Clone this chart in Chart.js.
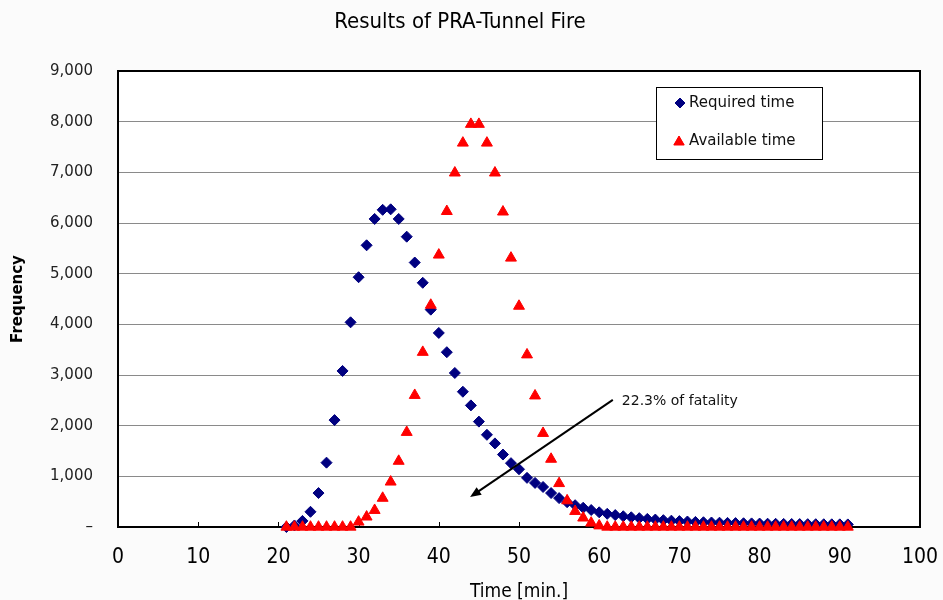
<!DOCTYPE html>
<html><head><meta charset="utf-8">
<script src="https://cdn.jsdelivr.net/npm/chart.js@4"></script>
<style>html,body{margin:0;padding:0;background:#fbfbfb;}#wrap{width:943px;height:600px;}</style>
</head><body><div id="wrap"><canvas id="c" width="943" height="600"></canvas></div>
<script>
const times=[21,22,23,24,25,26,27,28,29,30,31,32,33,34,35,36,37,38,39,40,41,42,43,44,45,46,47,48,49,50,51,52,53,54,55,56,57,58,59,60,61,62,63,64,65,66,67,68,69,70,71,72,73,74,75,76,77,78,79,80,81,82,83,84,85,86,87,88,89,90,91];
const requiredTime=[0,30,120,300,670,1270,2110,3080,4040,4930,5560,6080,6260,6270,6080,5730,5220,4820,4290,3830,3450,3040,2670,2400,2080,1820,1650,1430,1260,1140,970,870,790,670,570,490,430,380,335,290,260,235,212,192,175,160,147,135,125,116,108,100,94,89,85,81,77,74,71,68,65,63,61,59,57,56,55,54,53,52,51];
const availableTime=[0,0,0,0,0,0,0,0,0,100,200,330,570,890,1300,1870,2600,3450,4380,5370,6230,6990,7580,7950,7950,7580,6990,6220,5310,4360,3400,2590,1850,1340,860,520,310,180,80,25,0,0,0,0,0,0,0,0,0,0,0,0,0,0,0,0,0,0,0,0,0,0,0,0,0,0,0,0,0,0,0];
const xTickValues=[0,10,20,30,40,50,60,70,80,90,100];
const yTickValues=[0,1000,2000,3000,4000,5000,6000,7000,8000,9000];
const seriesNames=['Required time','Available time'];
const annotationText='22.3% of fatality';
const arrowFrom={x:61.7,y:2510};
const arrowTo={x:43.9,y:590};

const NARROW="'DejaVu Sans Condensed','Liberation Sans Narrow','Arial Narrow',sans-serif";
const SANS="'DejaVu Sans',Verdana,sans-serif";
const NAVY='#000080', RED='#ff0000';

function pts(vals){return times.map((t,i)=>({x:t,y:vals[i]}));}

function marker(ctx,style,x,y,r,color){
  ctx.save();ctx.fillStyle=color;ctx.strokeStyle=color;ctx.lineWidth=1;
  if(Chart.helpers&&Chart.helpers.drawPoint){
    Chart.helpers.drawPoint(ctx,{pointStyle:style,radius:r,rotation:0,borderWidth:1},x,y);
    ctx.fill();
  }
  ctx.restore();
}

const decor={
  id:'decor',
  beforeDraw(chart){
    const {ctx,chartArea:a}=chart;
    ctx.save();ctx.fillStyle='#ffffff';ctx.fillRect(a.left,a.top,a.right-a.left,a.bottom-a.top);ctx.restore();
  },
  beforeDatasetsDraw(chart){
    const {ctx,chartArea:a,scales}=chart;
    ctx.save();
    ctx.strokeStyle='#000';ctx.lineWidth=1;
    xTickValues.forEach(v=>{const px=Math.round(scales.x.getPixelForValue(v))+0.5;ctx.beginPath();ctx.moveTo(px,a.bottom);ctx.lineTo(px,a.bottom-5);ctx.stroke();});
    ctx.lineWidth=2;ctx.strokeRect(a.left,a.top,a.right-a.left,a.bottom-a.top);
    ctx.restore();
  },
  afterDatasetsDraw(chart){
    const {ctx,chartArea:a,scales}=chart;
    const sx=scales.x, sy=scales.y;
    const x1=sx.getPixelForValue(arrowFrom.x), y1=sy.getPixelForValue(arrowFrom.y);
    const x2=sx.getPixelForValue(arrowTo.x), y2=sy.getPixelForValue(arrowTo.y);
    ctx.save();ctx.strokeStyle='#000';ctx.fillStyle='#000';ctx.lineWidth=2;
    const ang=Math.atan2(y2-y1,x2-x1);
    ctx.beginPath();ctx.moveTo(x1,y1);ctx.lineTo(x2-7*Math.cos(ang),y2-7*Math.sin(ang));ctx.stroke();
    ctx.beginPath();ctx.moveTo(x2,y2);
    ctx.lineTo(x2-11*Math.cos(ang)+4.5*Math.sin(ang),y2-11*Math.sin(ang)-4.5*Math.cos(ang));
    ctx.lineTo(x2-11*Math.cos(ang)-4.5*Math.sin(ang),y2-11*Math.sin(ang)+4.5*Math.cos(ang));
    ctx.closePath();ctx.fill();
    ctx.font='14px '+SANS;ctx.textBaseline='middle';ctx.textAlign='left';ctx.fillStyle='#111';
    ctx.fillText(annotationText,x1+9,y1+2);
    const bx=a.right-264, by=a.top+16, bw=166, bh=72;
    ctx.fillStyle='#fff';ctx.fillRect(bx,by,bw,bh);
    ctx.lineWidth=1;ctx.strokeStyle='#000';ctx.strokeRect(bx+0.5,by+0.5,bw,bh);
    marker(ctx,'rectRot',bx+24,by+16,5,NAVY);
    marker(ctx,'triangle',bx+23,by+55,6,RED);
    ctx.fillStyle='#111';ctx.font='15px '+SANS;ctx.textBaseline='middle';
    ctx.fillText(seriesNames[0],bx+33,by+16);
    ctx.fillText(seriesNames[1],bx+33,by+54);
    ctx.restore();
  }
};

new Chart(document.getElementById('c'),{
  type:'scatter',
  data:{datasets:[
    {label:seriesNames[1],data:pts(availableTime),pointStyle:'triangle',pointRadius:6.3,pointHoverRadius:6.3,backgroundColor:RED,borderColor:RED,borderWidth:1,order:0,clip:false},
    {label:seriesNames[0],data:pts(requiredTime),pointStyle:'rectRot',pointRadius:5.5,pointHoverRadius:5.5,backgroundColor:NAVY,borderColor:NAVY,borderWidth:1,order:1,clip:false}
  ]},
  options:{
    responsive:false,animation:false,
    layout:{padding:{left:0,right:23,top:0,bottom:0}},
    plugins:{
      legend:{display:false},tooltip:{enabled:false},
      title:{display:true,text:'Results of PRA-Tunnel Fire',color:'#000',font:{family:NARROW,size:22,weight:'normal'},padding:{top:9,bottom:35.6}}
    },
    scales:{
      x:{type:'linear',min:0,max:100,
        afterBuildTicks(s){s.ticks=xTickValues.map(v=>({value:v}));},
        afterFit(s){s.height=73;s.paddingLeft=0;s.paddingRight=0;},
        grid:{display:false},border:{display:false},
        ticks:{color:'#000',font:{family:NARROW,size:21},padding:10,maxRotation:0},
        title:{display:true,text:'Time [min.]',color:'#000',font:{family:NARROW,size:19},padding:{top:0,bottom:-3}}
      },
      y:{type:'linear',min:0,max:9000,
        afterBuildTicks(s){s.ticks=yTickValues.map(v=>({value:v}));},
        afterFit(s){s.width=118;s.paddingTop=0;s.paddingBottom=0;},
        grid:{color:'#8a8a8a',lineWidth:1,drawTicks:false},border:{display:false},
        ticks:{color:'#222',font:{family:SANS,size:15},padding:25,callback:v=>v===0?'–':v.toLocaleString('en-US')},
        title:{display:true,text:'Frequency',color:'#000',font:{family:SANS,size:15,weight:'bold'},padding:{top:9,bottom:0}}
      }
    }
  },
  plugins:[decor]
});
</script></body></html>
